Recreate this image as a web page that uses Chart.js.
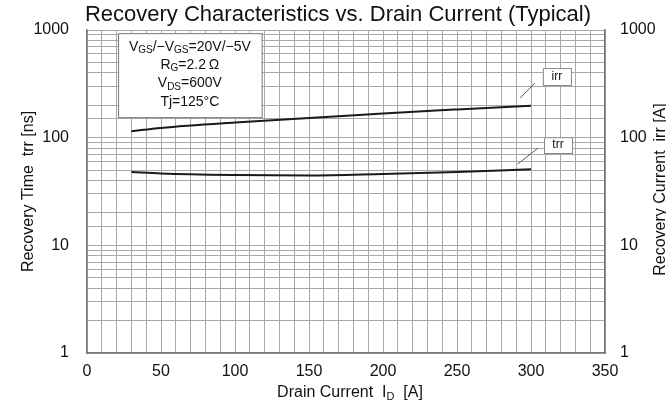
<!DOCTYPE html>
<html>
<head>
<meta charset="utf-8">
<script src="https://cdn.jsdelivr.net/npm/chart.js@4.4.1/dist/chart.umd.min.js"></script>
<style>
  html, body { margin: 0; padding: 0; background: #fff; overflow: hidden; }
  #wrap { width: 676px; height: 413px; }
</style>
</head>
<body>
<div id="wrap"><canvas id="recChart" width="676" height="413"></canvas></div>
<script>
// values
const drainCurrent = [30, 50, 100, 150, 200, 250, 300];
const irrValues = [115, 123, 138, 152, 168, 183, 198];
const trrValues = [48, 46.5, 45, 44.5, 46, 48, 51];
const xTickLabels = [0, 50, 100, 150, 200, 250, 300, 350];
const yTickLabels = [1, 10, 100, 1000];
const conditions = [
  [['V', 0], ['GS', 1], ['/\u2212V', 0], ['GS', 1], ['=20V/\u22125V', 0]],
  [['R', 0], ['G', 1], ['=2.2\u2009\u03A9', 0]],
  [['V', 0], ['DS', 1], ['=600V', 0]],
  [['Tj=125\u00B0C', 0]],
];

const W = 676;
const FONT = "'Liberation Sans', Arial, sans-serif";
const GRID = '#a8a8a8';

function drawRich(ctx, parts, cx, cy, size) {
  const subSize = Math.round(size * 0.68);
  let total = 0;
  parts.forEach(([t, sub]) => {
    ctx.font = `${sub ? subSize : size}px ${FONT}`;
    total += ctx.measureText(t).width;
  });
  let x = cx - total / 2;
  parts.forEach(([t, sub]) => {
    ctx.font = `${sub ? subSize : size}px ${FONT}`;
    ctx.fillText(t, x, sub ? cy + size * 0.25 : cy);
    x += ctx.measureText(t).width;
  });
}

const notes = {
  id: 'notes',
  afterDraw(chart) {
    const { ctx, scales: { x, y }, chartArea } = chart;
    ctx.save();
    ctx.fillStyle = '#111';
    ctx.textBaseline = 'middle';
    ctx.textAlign = 'left';

    // conditions box
    const bl = x.getPixelForValue(21), br = x.getPixelForValue(118);
    const bt = y.getPixelForValue(935), bb = y.getPixelForValue(155);
    ctx.fillStyle = '#fff';
    ctx.fillRect(bl, bt, br - bl, bb - bt);
    ctx.strokeStyle = '#777';
    ctx.lineWidth = 1;
    ctx.strokeRect(bl + 0.5, bt + 0.5, br - bl, bb - bt);
    ctx.fillStyle = '#111';
    const step = (bb - bt) / (conditions.length + 0.6);
    conditions.forEach((parts, i) => {
      drawRich(ctx, parts, (bl + br) / 2, bt + step * (i + 0.75), 14);
    });

    // curve labels with leaders
    const tags = [
      { text: 'irr', x0: 308, x1: 327, y0: 443, y1: 308, lx: [292.6, 302.7], ly: [233, 321] },
      { text: 'trr', x0: 308.8, x1: 327.7, y0: 101, y1: 72, lx: [291, 304.7], ly: [56.9, 80] },
    ];
    tags.forEach(t => {
      const l = x.getPixelForValue(t.x0), r = x.getPixelForValue(t.x1);
      const tp = y.getPixelForValue(t.y0), bt2 = y.getPixelForValue(t.y1);
      ctx.fillStyle = '#fff';
      ctx.fillRect(l, tp, r - l, bt2 - tp);
      ctx.strokeStyle = '#888';
      ctx.strokeRect(l + 0.5, tp + 0.5, r - l, bt2 - tp);
      ctx.fillStyle = '#111';
      ctx.font = `12px ${FONT}`;
      ctx.textAlign = 'center';
      ctx.fillText(t.text, (l + r) / 2, (tp + bt2) / 2);
      ctx.textAlign = 'left';
      ctx.strokeStyle = '#555';
      ctx.beginPath();
      ctx.moveTo(x.getPixelForValue(t.lx[0]), y.getPixelForValue(t.ly[0]));
      ctx.lineTo(x.getPixelForValue(t.lx[1]), y.getPixelForValue(t.ly[1]));
      ctx.stroke();
    });

    // x axis title with subscript
    ctx.fillStyle = '#111';
    drawRich(ctx, [['Drain Current  I', 0], ['D', 1], ['  [A]', 0]],
      (chartArea.left + chartArea.right) / 2 + 4, 393, 16);

    // right axis title, reads bottom to top like the left one
    ctx.translate(661, (chartArea.top + chartArea.bottom) / 2 - 2);
    ctx.rotate(-Math.PI / 2);
    ctx.textAlign = 'center';
    ctx.font = `16px ${FONT}`;
    ctx.fillText('Recovery Current  irr [A]', 0, 0);
    ctx.restore();
  }
};

const tickFont = { family: FONT, size: 16 };

new Chart(document.getElementById('recChart'), {
  type: 'line',
  data: {
    datasets: [
      {
        label: 'irr',
        data: drainCurrent.map((c, i) => ({ x: c, y: irrValues[i] })),
        yAxisID: 'y2',
        borderColor: '#1a1a1a', borderWidth: 2, pointRadius: 0,
        tension: 0.4, cubicInterpolationMode: 'monotone', fill: false,
      },
      {
        label: 'trr',
        data: drainCurrent.map((c, i) => ({ x: c, y: trrValues[i] })),
        yAxisID: 'y',
        borderColor: '#1a1a1a', borderWidth: 2, pointRadius: 0,
        tension: 0.4, cubicInterpolationMode: 'monotone', fill: false,
      },
    ],
  },
  options: {
    responsive: false, animation: false, devicePixelRatio: 1,
    layout: { padding: 0 },
    plugins: {
      legend: { display: false },
      tooltip: { enabled: false },
      title: {
        display: true,
        text: 'Recovery Characteristics vs. Drain Current (Typical)',
        color: '#111',
        font: { family: FONT, size: 22, weight: 'normal', lineHeight: 1.2 },
        padding: { top: 2, bottom: 1.6 },
      },
    },
    scales: {
      x: {
        type: 'linear', min: 0, max: 350,
        afterFit: s => { s.height = 60; },
        afterBuildTicks: s => { s.ticks = []; for (let v = 0; v <= 350; v += 10) s.ticks.push({ value: v }); },
        ticks: {
          autoSkip: false, maxRotation: 0, padding: 9, color: '#111', font: tickFont,
          callback: v => xTickLabels.includes(v) ? String(v) : '',
        },
        grid: { color: GRID, lineWidth: 1, drawTicks: false },
        border: { color: '#777', width: 1.5 },
      },
      y: {
        type: 'logarithmic', position: 'left', min: 1, max: 1000,
        afterFit: s => { s.width = 87; },
        ticks: {
          autoSkip: false, padding: 18, color: '#111', font: tickFont,
          callback: v => yTickLabels.includes(v) ? String(v) : '',
        },
        grid: { color: GRID, lineWidth: 1, drawTicks: false },
        border: { color: '#777', width: 1.5 },
        title: {
          display: true, text: 'Recovery Time  trr [ns]', color: '#111',
          font: { family: FONT, size: 16, lineHeight: 1.2 }, padding: { top: 19 },
        },
      },
      y2: {
        type: 'logarithmic', position: 'right', min: 1, max: 1000,
        afterFit: s => { s.width = W - 605; },
        ticks: {
          autoSkip: false, padding: 15, color: '#111', font: tickFont,
          callback: v => yTickLabels.includes(v) ? String(v) : '',
        },
        grid: { display: false, drawTicks: false },
        border: { color: '#777', width: 1.5 },
      },
    },
  },
  plugins: [notes],
});
</script>
</body>
</html>
